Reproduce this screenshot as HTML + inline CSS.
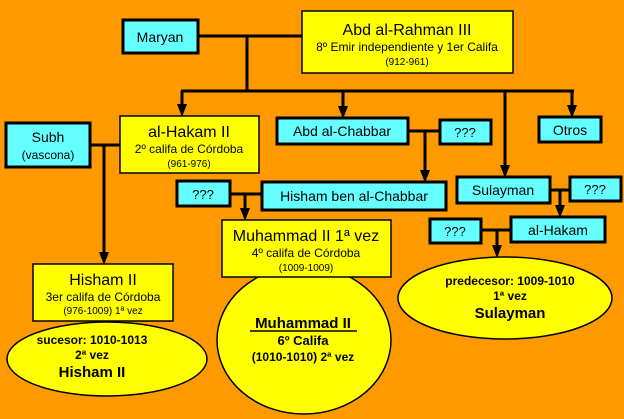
<!DOCTYPE html>
<html><head><meta charset="utf-8"><style>
html,body{margin:0;padding:0;background:#ff9900;}
svg{display:block;font-family:"Liberation Sans",Arial,sans-serif;}
</style></head><body>
<svg width="624" height="419" viewBox="0 0 624 419" xmlns="http://www.w3.org/2000/svg">
<rect width="624" height="419" fill="#ff9900"/>
<g stroke="#000" stroke-width="3" fill="none">
<line x1="198" y1="36" x2="302" y2="36"/>
<line x1="247" y1="36" x2="247" y2="91"/>
<line x1="181" y1="91" x2="574" y2="91"/>
<line x1="182" y1="91" x2="182" y2="106"/>
<line x1="343" y1="91" x2="343" y2="108"/>
<line x1="505" y1="91" x2="505" y2="167"/>
<line x1="572" y1="91" x2="572" y2="107"/>
<line x1="90" y1="145" x2="120" y2="145"/>
<line x1="104" y1="145" x2="104" y2="254"/>
<line x1="408" y1="131" x2="440" y2="131"/>
<line x1="425" y1="131" x2="425" y2="172"/>
<line x1="230" y1="194" x2="262" y2="194"/>
<line x1="245" y1="194" x2="245" y2="210"/>
<line x1="550" y1="190" x2="570" y2="190"/>
<line x1="560" y1="190" x2="560" y2="207"/>
<line x1="481" y1="230" x2="511" y2="230"/>
<line x1="497" y1="230" x2="497" y2="247"/>
</g>
<g fill="#000">
<polygon points="177,104 187,104 182,117"/>
<polygon points="338,106 348,106 343,119"/>
<polygon points="500,165 510,165 505,178"/>
<polygon points="567,105 577,105 572,118"/>
<polygon points="99,252 109,252 104,265"/>
<polygon points="420,170 430,170 425,183"/>
<polygon points="240,208 250,208 245,221"/>
<polygon points="555,205 565,205 560,218"/>
<polygon points="492,245 502,245 497,258"/>
</g>
<g stroke="#000" stroke-width="1.5" fill="#ffff00">
<ellipse cx="107" cy="359" rx="100" ry="37"/>
<ellipse cx="304" cy="340" rx="87" ry="74"/>
<ellipse cx="505" cy="298" rx="107" ry="41"/>
<rect x="302" y="11" width="211" height="62"/>
<rect x="120" y="116" width="139" height="57"/>
<rect x="222" y="220" width="169" height="57"/>
<rect x="33" y="264" width="140" height="57"/>
</g>
<g stroke="#000" stroke-width="3" fill="#66ffff">
<rect x="123" y="20" width="75" height="33"/>
<rect x="6" y="123" width="84" height="44"/>
<rect x="277" y="118" width="131" height="26"/>
<rect x="440" y="120" width="51" height="24"/>
<rect x="539" y="117" width="62" height="25"/>
<rect x="177" y="181" width="53" height="25"/>
<rect x="262" y="182" width="184" height="28"/>
<rect x="457" y="177" width="93" height="26"/>
<rect x="570" y="177" width="51" height="24"/>
<rect x="430" y="219" width="51" height="24"/>
<rect x="511" y="217" width="94" height="25"/>
</g>
<g fill="#000" text-anchor="middle">
<text x="160" y="42" font-size="14">Maryan</text>
<text x="407" y="35" font-size="16">Abd al-Rahman III</text>
<text x="407" y="51" font-size="12">8º Emir independiente y 1er Califa</text>
<text x="407" y="65" font-size="10">(912-961)</text>
<text x="48" y="142" font-size="14">Subh</text>
<text x="48" y="159" font-size="12">(vascona)</text>
<text x="189" y="137" font-size="16">al-Hakam II</text>
<text x="189" y="153" font-size="12">2º califa de Córdoba</text>
<text x="189" y="167" font-size="10">(961-976)</text>
<text x="342" y="136" font-size="14">Abd al-Chabbar</text>
<text x="465" y="137" font-size="13">???</text>
<text x="570" y="135" font-size="14">Otros</text>
<text x="203" y="199" font-size="13">???</text>
<text x="354" y="201" font-size="14">Hisham ben al-Chabbar</text>
<text x="503" y="195" font-size="14">Sulayman</text>
<text x="595" y="194" font-size="13">???</text>
<text x="455" y="236" font-size="13">???</text>
<text x="558" y="235" font-size="14">al-Hakam</text>
<text x="306" y="241" font-size="16">Muhammad II 1ª vez</text>
<text x="306" y="257" font-size="12">4º califa de Córdoba</text>
<text x="306" y="271" font-size="10">(1009-1009)</text>
<text x="103" y="285" font-size="16">Hisham II</text>
<text x="103" y="301" font-size="12">3er califa de Córdoba</text>
<text x="103" y="314" font-size="10">(976-1009) 1ª vez</text>
<g font-weight="bold">
<text x="92" y="344" font-size="12">sucesor: 1010-1013</text>
<text x="92" y="359" font-size="12">2ª vez</text>
<text x="92" y="377" font-size="15">Hisham II</text>
<text x="303" y="328" font-size="15">Muhammad II</text>
<text x="303" y="345" font-size="13">6º Califa</text>
<text x="303" y="361" font-size="12">(1010-1010) 2ª vez</text>
<text x="510" y="285" font-size="12">predecesor: 1009-1010</text>
<text x="510" y="300" font-size="12">1ª vez</text>
<text x="510" y="318" font-size="15">Sulayman</text>
</g>
</g>
<line x1="250" y1="331" x2="357" y2="331" stroke="#000" stroke-width="1.5"/>
</svg>
</body></html>
